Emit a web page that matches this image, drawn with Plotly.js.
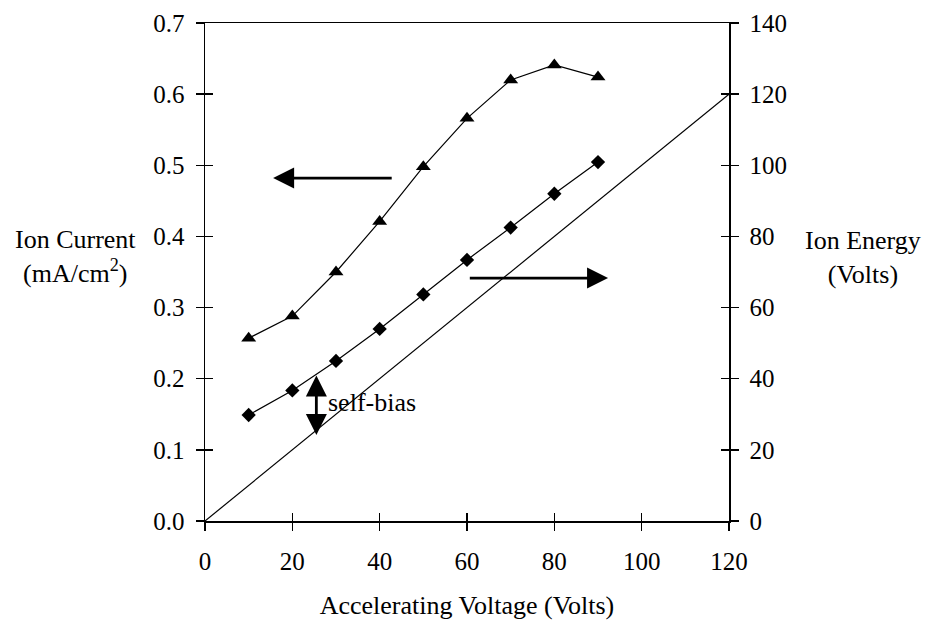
<!DOCTYPE html>
<html>
<head>
<meta charset="utf-8">
<script src="https://cdn.plot.ly/plotly-3.0.1.min.js"></script>
<style>html,body{margin:0;padding:0;background:#fff;}#chart{width:928px;height:621px;}</style>
</head>
<body>
<div id="chart"></div>
<script>
// Data
const voltage = [10, 20, 30, 40, 50, 60, 70, 80, 90];
const ionCurrent = [0.257, 0.288, 0.350, 0.421, 0.498, 0.566, 0.620, 0.641, 0.624];
const ionEnergy = [29.8, 36.7, 45.0, 54.0, 63.7, 73.4, 82.5, 92.0, 100.9];
const refLineX = [0, 120];
const refLineY = [0, 120];
const xTickVals = [0, 20, 40, 60, 80, 100, 120];
const leftTickVals = [0, 0.1, 0.2, 0.3, 0.4, 0.5, 0.6, 0.7];
const rightTickVals = [0, 20, 40, 60, 80, 100, 120, 140];

const FONT = "Liberation Serif, Times New Roman, serif";
const FS = 25;      // tick labels
const FT = 26;      // titles and labels
const tickFont = {family: FONT, size: FS, color: '#000'};
const titleFont = {family: FONT, size: FT, color: '#000'};

const traces = [
  {x: voltage, y: ionCurrent, type: 'scatter', mode: 'lines+markers', xaxis: 'x', yaxis: 'y',
   line: {color: '#000', width: 1.2}, marker: {symbol: 'triangle-up', size: 13, color: '#000'},
   name: 'Ion Current'},
  {x: voltage, y: ionEnergy, type: 'scatter', mode: 'lines+markers', xaxis: 'x', yaxis: 'y2',
   line: {color: '#000', width: 1.2}, marker: {symbol: 'diamond', size: 11, color: '#000'},
   name: 'Ion Energy'},
  {x: refLineX, y: refLineY, type: 'scatter', mode: 'lines', xaxis: 'x', yaxis: 'y2',
   line: {color: '#000', width: 1.2}, name: 'Accelerating Voltage'},
  // empty helper traces so that the inside-tick overlay axes get drawn
  {x: [], y: [], type: 'scatter', mode: 'lines', xaxis: 'x2', yaxis: 'y', hoverinfo: 'skip'},
  {x: [], y: [], type: 'scatter', mode: 'lines', xaxis: 'x', yaxis: 'y3', hoverinfo: 'skip'},
  {x: [], y: [], type: 'scatter', mode: 'lines', xaxis: 'x', yaxis: 'y4', hoverinfo: 'skip'}
];

const baseAxis = {showgrid: false, zeroline: false, color: '#000', linecolor: '#000', tickcolor: '#000',
  tickwidth: 1.3, ticklen: 8, tickfont: tickFont};

const layout = {
  width: 928, height: 621,
  margin: {l: 205, r: 199, t: 23, b: 100},
  paper_bgcolor: '#fff', plot_bgcolor: 'rgba(0,0,0,0)',
  showlegend: false,
  font: {family: FONT, color: '#000', size: FS},
  xaxis: Object.assign({}, baseAxis, {range: [0, 120], tickvals: xTickVals, ticks: 'outside',
    showline: true, linewidth: 1.5, mirror: true, ticklabelstandoff: 9,
    title: {text: 'Accelerating Voltage (Volts)', font: titleFont, standoff: 22}}),
  xaxis2: Object.assign({}, baseAxis, {range: [0, 120], tickvals: xTickVals, ticks: 'inside',
    overlaying: 'x', anchor: 'y', side: 'bottom', showticklabels: false, showline: false}),
  yaxis: Object.assign({}, baseAxis, {range: [0, 0.7], tickvals: leftTickVals, tickformat: '.1f',
    ticks: 'outside', showline: true, linewidth: 1.5, ticklabelstandoff: 6}),
  yaxis2: Object.assign({}, baseAxis, {range: [0, 140], tickvals: rightTickVals, ticks: 'outside',
    overlaying: 'y', side: 'right', anchor: 'x', showline: true, linewidth: 1.5, ticklabelstandoff: 6}),
  yaxis3: Object.assign({}, baseAxis, {range: [0, 0.7], tickvals: leftTickVals, ticks: 'inside',
    overlaying: 'y', side: 'left', anchor: 'x', showticklabels: false, showline: false}),
  yaxis4: Object.assign({}, baseAxis, {range: [0, 140], tickvals: rightTickVals, ticks: 'inside',
    overlaying: 'y', side: 'right', anchor: 'x', showticklabels: false, showline: false}),
  annotations: [
    {xref: 'paper', yref: 'paper', x: -0.248, y: 0.532, xanchor: 'center', yanchor: 'middle',
     text: 'Ion Current<br>(mA/cm<sup>2</sup>)', showarrow: false, font: titleFont},
    {xref: 'paper', yref: 'paper', x: 1.256, y: 0.53, xanchor: 'center', yanchor: 'middle',
     text: 'Ion Energy<br>(Volts)', showarrow: false, font: titleFont},
    // left-pointing arrow (ion current -> left axis)
    {xref: 'x', yref: 'y', x: 15.6, y: 0.482, axref: 'x', ayref: 'y', ax: 43.1, ay: 0.482,
     text: '', showarrow: true, arrowhead: 2, arrowsize: 1.5, arrowwidth: 2.8, arrowcolor: '#000'},
    // right-pointing arrow (ion energy -> right axis)
    {xref: 'x', yref: 'y2', x: 92.3, y: 68.3, axref: 'x', ayref: 'y2', ax: 60.3, ay: 68.3,
     text: '', showarrow: true, arrowhead: 2, arrowsize: 1.5, arrowwidth: 2.8, arrowcolor: '#000'},
    // self-bias double arrow
    {xref: 'x', yref: 'y2', x: 25.5, y: 24.2, axref: 'x', ayref: 'y2', ax: 25.5, ay: 41.3,
     text: '', showarrow: true, arrowhead: 2, startarrowhead: 2, arrowside: 'end+start',
     arrowsize: 1.5, startarrowsize: 1.5, arrowwidth: 2.8, arrowcolor: '#000'},
    {xref: 'x', yref: 'y2', x: 27.6, y: 33.2, xanchor: 'left', yanchor: 'middle',
     text: 'self-bias', showarrow: false, font: titleFont}
  ]
};

Plotly.newPlot('chart', traces, layout, {staticPlot: true, displayModeBar: false});
</script>
</body>
</html>
